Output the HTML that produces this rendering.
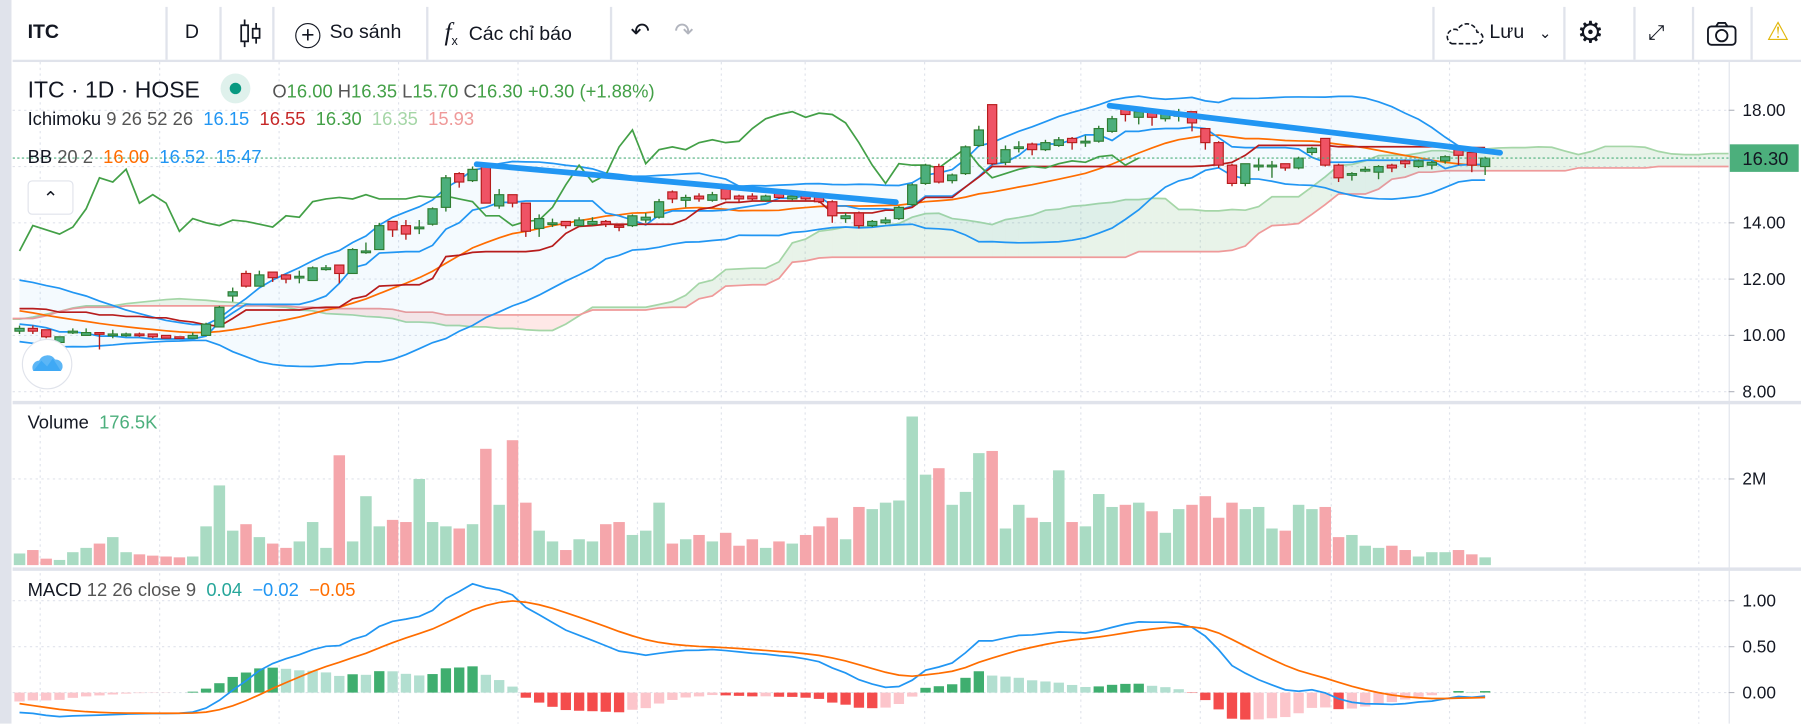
<!DOCTYPE html>
<html><head><meta charset="utf-8">
<style>
html,body{margin:0;padding:0}
body{width:1801px;height:723px;background:#fff;font-family:"Liberation Sans",sans-serif;overflow:hidden;position:relative;color:#131722}
#root{position:absolute;left:0;top:0;width:1568px;height:630px;transform:scale(1.14860);transform-origin:0 0}
.tb{position:absolute;top:0;left:11px;right:0;height:52px;border-bottom:2px solid #e0e3eb;}
.tbi{position:absolute;top:0;height:52px;line-height:56px;font-size:17px;color:#131722}
.sep{position:absolute;top:6px;width:2px;height:46px;background:#e0e3eb}
.lg{position:absolute;white-space:nowrap}
</style></head><body>
<div id="root">
<div style="position:absolute;left:0;top:0;width:10px;height:630px;background:#e0e3eb"></div>
<div class="tb">
 <div class="tbi" style="left:13px;font-weight:bold">ITC</div>
 <div class="sep" style="left:133px"></div>
 <div class="tbi" style="left:150px">D</div>
 <div class="sep" style="left:180px"></div>
 <div class="tbi" style="left:197px"><svg width="22" height="30" style="vertical-align:middle"><path d="M5 3v24M15 6v18" stroke="#131722" stroke-width="1.5"/><rect x="2" y="8" width="6" height="14" fill="#fff" stroke="#131722" stroke-width="1.5"/><rect x="12" y="11" width="6" height="8" fill="#fff" stroke="#131722" stroke-width="1.5"/></svg></div>
 <div class="sep" style="left:226px"></div>
 <div class="tbi" style="left:246px"><span style="display:inline-block;width:20px;height:20px;border:1.6px solid #131722;border-radius:50%;text-align:center;line-height:20px;font-size:20px;vertical-align:-4px;margin-right:8px">+</span>So sánh</div>
 <div class="sep" style="left:360px"></div>
 <div class="tbi" style="left:376px"><i style="font-family:'Liberation Serif',serif;font-size:22px">f</i><sub style="font-size:11px">x</sub>&nbsp;&nbsp;Các chỉ báo</div>
 <div class="sep" style="left:520px"></div>
 <div class="tbi" style="left:538px;font-size:20px">↶</div>
 <div class="tbi" style="left:576px;font-size:20px;color:#b2b5be">↷</div>
 <div class="sep" style="left:1236px"></div>
 <div class="tbi" style="left:1247px"><svg width="34" height="24" style="vertical-align:middle"><path d="M6 21h22a5 5 0 0 0 0-10a9 9 0 0 0-17-2a6 6 0 0 0-5 12z" fill="none" stroke="#131722" stroke-width="1.4" stroke-dasharray="4 2"/></svg> Lưu <span style="font-size:13px;margin-left:8px">⌄</span></div>
 <div class="sep" style="left:1350px"></div>
 <div class="tbi" style="left:1362px;font-size:26px">⚙</div>
 <div class="sep" style="left:1411px"></div>
 <div class="tbi" style="left:1424px;font-size:18px">⤢</div>
 <div class="sep" style="left:1462px"></div>
 <div class="tbi" style="left:1474px"><svg width="28" height="24" style="vertical-align:middle"><rect x="2" y="6" width="24" height="16" rx="3" fill="none" stroke="#131722" stroke-width="1.6"/><path d="M9 6l2-3h6l2 3" fill="none" stroke="#131722" stroke-width="1.6"/><circle cx="14" cy="14" r="5" fill="none" stroke="#131722" stroke-width="1.6"/></svg></div>
 <div class="sep" style="left:1513px"></div>
 <div class="tbi" style="left:1527px;color:#e2b80e;font-size:22px">⚠</div>
</div>

<svg id="chart" width="1568" height="630" style="position:absolute;left:0;top:0">
<defs>
<clipPath id="cp"><rect x="11" y="54" width="1494" height="296"/></clipPath>
<clipPath id="cm"><rect x="11" y="498" width="1494" height="135"/></clipPath>
</defs>
<g id="grid"></g>
<g id="pricePane" clip-path="url(#cp)"></g>
<g id="volPane"></g>
<g id="macdPane" clip-path="url(#cm)"></g>
<g id="axis"></g>
</svg>

<div class="lg" style="left:24px;top:64px;font-size:20px">ITC · 1D · HOSE <span style="display:inline-block;width:26px;height:26px;border-radius:50%;background:#dff1ec;vertical-align:-5px;margin-left:12px;position:relative"><span style="position:absolute;left:8px;top:8px;width:10px;height:10px;border-radius:50%;background:#089981"></span></span>
 <span style="font-size:16px;color:#555;margin-left:14px">O<span style="color:#43a047">16.00</span> H<span style="color:#43a047">16.35</span> L<span style="color:#43a047">15.70</span> C<span style="color:#43a047">16.30</span> <span style="color:#43a047">+0.30 (+1.88%)</span></span></div>
<div class="lg" style="left:24px;top:96px;font-size:16px">Ichimoku <span style="color:#555">9 26 52 26</span>&nbsp; <span style="color:#2196f3">16.15</span>&nbsp; <span style="color:#c62828">16.55</span>&nbsp; <span style="color:#43a047">16.30</span>&nbsp; <span style="color:#a5d6a7">16.35</span>&nbsp; <span style="color:#ef9a9a">15.93</span></div>
<div class="lg" style="left:24px;top:129px;font-size:16px">BB <span style="color:#555">20 2</span>&nbsp; <span style="color:#ff6d00">16.00</span>&nbsp; <span style="color:#2196f3">16.52</span>&nbsp; <span style="color:#2196f3">15.47</span></div>
<div style="position:absolute;left:24px;top:157px;width:38px;height:28px;border:1px solid #e0e3eb;border-radius:4px;background:#fff;text-align:center;line-height:32px;font-size:16px">⌃</div>
<div style="position:absolute;left:19px;top:295px;width:42px;height:42px;border-radius:50%;border:1px solid #e0e3eb;background:#fff"><svg width="42" height="42"><path d="M9 27l7-9 5 5 5-7 7 11z" fill="#3fa9f5"/><path d="M9 27a6 6 0 0 1 5-9a8 8 0 0 1 14-1a6 6 0 0 1 5 10z" fill="#3fa9f5" opacity=".85"/></svg></div>
<div class="lg" style="left:24px;top:360px;font-size:16px">Volume&nbsp;&nbsp;<span style="color:#4caf7c">176.5K</span></div>
<div class="lg" style="left:24px;top:506px;font-size:16px">MACD <span style="color:#555">12 26 close 9</span>&nbsp; <span style="color:#26a69a">0.04</span>&nbsp; <span style="color:#2196f3">−0.02</span>&nbsp; <span style="color:#ff6d00">−0.05</span></div>
</div>

<script>
const histClose=[10.5,10.6,10.4,10.3,10.5,10.7,10.8,10.6,10.5,10.4,10.6,10.7,10.9,10.8,10.6,10.5,10.4,10.5,10.6,10.8,10.7,10.6,10.5,10.6,10.7,10.6,
10.5,10.4,10.6,10.7,10.5,10.4,10.6,10.8,10.7,10.5,10.6,10.7,10.6,10.5,10.4,10.6,10.7,10.6,10.5,10.6,10.5,10.4,10.5,10.6,10.7,10.6,
10.7,10.9,11.1,11.3,11.5,11.6,11.4,11.6,11.7,11.5,11.6,11.4,11.5,11.3,11.2,11.0,10.9,10.8,10.6,10.5,10.4,10.3,10.3,10.2,10.2,10.2];
const openArr=[10.15,10.25,10.2,9.75,10.1,10.0,10.1,10.05,10.0,10.05,10.05,10.0,9.95,9.9,10.0,10.3,11.4,12.2,11.75,12.25,12.15,12.05,11.95,12.4,12.5,12.2,13.0,13.05,14.05,13.9,13.85,13.95,14.55,15.75,15.5,16.05,14.6,15.0,14.7,13.8,14.0,14.05,13.9,13.95,14.05,13.9,13.9,14.1,14.2,15.1,14.8,14.95,14.8,15.2,14.95,14.95,14.8,15.05,14.85,15.0,14.95,14.75,14.15,14.35,13.9,14.0,14.15,14.65,15.4,16.0,15.5,15.75,16.75,18.2,16.15,16.7,16.8,16.6,16.75,17.0,16.9,16.9,17.25,18.05,17.75,17.95,17.7,17.85,17.95,17.35,16.85,16.05,15.4,16.05,16.05,16.1,15.95,16.5,17.0,16.05,15.75,15.9,15.8,16.05,16.2,16.0,16.05,16.2,16.6,16.5,16.0];
const highArr=[10.35,10.35,10.2,9.95,10.25,10.25,10.1,10.2,10.1,10.1,10.05,10.0,9.95,10.1,10.45,11.05,11.7,12.3,12.3,12.25,12.15,12.3,12.45,12.5,12.5,13.1,13.3,14.0,14.05,14.1,14.1,14.55,15.7,15.8,16.0,16.05,15.2,15.0,14.7,14.3,14.15,14.05,14.2,14.2,14.1,13.95,14.3,14.35,14.85,15.15,15.0,15.05,15.1,15.2,15.0,15.05,15.0,15.2,15.05,15.1,15.0,14.8,14.35,14.4,14.1,14.2,14.6,15.4,16.1,16.1,15.75,16.75,17.45,18.2,16.75,16.9,16.85,16.95,17.05,17.05,17.1,17.45,17.8,18.1,18.05,18.0,17.95,18.05,17.95,17.35,16.9,16.1,16.1,16.3,16.2,16.1,16.35,16.7,17.0,16.1,15.8,16.0,16.05,16.1,16.25,16.25,16.2,16.4,16.6,16.5,16.35];
const lowArr=[10.05,10.05,9.9,9.7,10.05,10.0,9.5,9.9,9.95,9.95,9.9,9.9,9.9,9.9,10.0,10.3,11.2,11.7,11.75,11.9,11.85,11.85,11.95,12.3,11.85,12.2,12.9,13.05,13.5,13.4,13.6,13.9,14.4,15.25,15.45,14.7,14.5,14.55,13.5,13.5,13.85,13.8,13.9,13.9,13.85,13.7,13.85,14.0,14.15,14.7,14.55,14.75,14.75,14.8,14.75,14.8,14.75,14.85,14.8,14.8,14.7,14.0,14.0,13.8,13.85,13.95,14.1,14.6,15.35,15.4,15.4,15.7,16.7,16.05,16.05,16.5,16.4,16.55,16.7,16.6,16.7,16.85,17.2,17.6,17.5,17.45,17.6,17.6,17.25,16.6,15.95,15.3,15.3,15.85,15.6,15.85,15.9,16.4,16.0,15.45,15.5,15.8,15.55,15.8,15.95,15.95,15.9,16.1,16.05,15.8,15.7];
const closeArr=[10.25,10.15,9.95,9.95,10.15,10.1,10.05,10.05,10.05,10.0,9.95,9.9,9.9,10.0,10.4,11.0,11.55,11.75,12.15,12.05,12.0,12.1,12.4,12.4,12.2,13.05,13.0,13.9,13.75,13.6,13.85,14.5,15.6,15.45,15.9,14.7,15.0,14.7,13.7,14.15,14.0,13.9,14.1,14.05,13.95,13.85,14.25,14.2,14.75,14.85,14.9,14.85,15.0,14.85,14.85,14.85,14.95,14.9,14.95,14.85,14.75,14.25,14.25,13.9,14.05,14.1,14.55,15.35,16.05,15.45,15.7,16.7,17.3,16.1,16.6,16.7,16.6,16.85,16.95,16.85,16.9,17.35,17.7,17.85,17.95,17.75,17.9,17.85,17.55,16.85,16.05,15.4,16.1,16.05,16.05,15.95,16.3,16.65,16.05,15.6,15.75,15.9,16.0,15.95,16.1,16.2,16.15,16.35,16.4,16.05,16.3];
const volumeArr=[.27,.35,.15,.12,.3,.4,.5,.65,.3,.25,.22,.2,.18,.2,.9,1.85,.8,.95,.65,.5,.4,.55,1.0,.4,2.55,.55,1.6,.9,1.05,1.0,2.0,1.0,.9,.85,.95,2.7,1.4,2.9,1.45,.8,.55,.35,.6,.55,.95,1.0,.7,.8,1.45,.5,.6,.7,.55,.75,.45,.6,.4,.55,.5,.7,.9,1.1,.6,1.35,1.3,1.45,1.5,3.45,2.1,2.25,1.4,1.7,2.6,2.65,.85,1.4,1.1,1.0,2.2,1.0,.9,1.65,1.35,1.4,1.45,1.25,.75,1.3,1.4,1.6,1.1,1.45,1.3,1.35,.85,.8,1.4,1.3,1.35,.65,.7,.45,.4,.45,.35,.2,.3,.3,.35,.25,.18];
const priceTicks=[8,10,12,14,18];
const macdTicks=[0,0.5,1];
const volTicks=[2];

const NS='http://www.w3.org/2000/svg';
const N=closeArr.length, H=histClose.length;
const xOf=i=>17+i*11.6;
const yP=p=>96+(18-p)*24.5;
const yV=v=>492-v*37.5;
const yM=m=>603-m*80;
function mk(tag,attrs,parent){const e=document.createElementNS(NS,tag);for(const k in attrs)e.setAttribute(k,attrs[k]);parent.appendChild(e);return e;}
const G=id=>document.getElementById(id);

const C=histClose.concat(closeArr);
const Hi=histClose.map(c=>c+0.25).concat(highArr);
const Lo=histClose.map(c=>c-0.25).concat(lowArr);
const T=C.length;
function mid(n,k){if(k<n-1)return null;let h=-1e9,l=1e9;for(let j=k-n+1;j<=k;j++){h=Math.max(h,Hi[j]);l=Math.min(l,Lo[j]);}return (h+l)/2;}
function poly(pts,attrs,parent){const d=pts.filter(p=>p&&p[1]!=null&&!isNaN(p[1])).map(p=>p[0].toFixed(1)+','+p[1].toFixed(1)).join(' ');return mk('polyline',Object.assign({points:d,fill:'none'},attrs),parent);}

const grid=G('grid');
[35,139,243,347,451,555,628,701,805,941,1045,1159,1262,1380,1479].forEach(x=>{
  const l=mk('line',{x1:x,y1:54,x2:x,y2:633,stroke:'#e0e3eb','stroke-dasharray':'2 3'},grid);
  
  
});
[8,10,12,14,16,18].forEach(p=>{const l=mk('line',{x1:11,y1:yP(p),x2:1505,y2:yP(p),stroke:'#e0e3eb','stroke-dasharray':'2 3'},grid);
  
  });
volTicks.forEach(v=>{mk('line',{x1:11,y1:yV(v),x2:1505,y2:yV(v),stroke:'#e0e3eb','stroke-dasharray':'2 3'},grid);});
macdTicks.forEach(v=>{mk('line',{x1:11,y1:yM(v),x2:1505,y2:yM(v),stroke:'#e0e3eb','stroke-dasharray':'2 3'},grid);});
[350,495].forEach(y=>{const s=mk('rect',{x:11,y:y-1,width:1560,height:3,fill:'#e0e3eb'},grid);
  
  });
mk('rect',{x:11,y:633,width:1560,height:2,fill:'#e0e3eb'},grid);

const pp=G('pricePane');
const spanA=[],spanB=[];
for(let k=0;k<T;k++){const t=mid(9,k),kj=mid(26,k);spanA.push(t!=null&&kj!=null?(t+kj)/2:null);spanB.push(mid(52,k));}
const cloudG=mk('g',{},pp);


const aPts=[],bPts=[];
for(let i=-26;i<N+26;i++){const k=H+i-26;if(k<0||spanA[k]==null||spanB[k]==null)continue;aPts.push([xOf(i),yP(spanA[k]),spanA[k]]);bPts.push([xOf(i),yP(spanB[k]),spanB[k]]);}
for(let j=0;j<aPts.length-1;j++){const up=aPts[j][2]>=bPts[j][2];
  mk('polygon',{points:[aPts[j],aPts[j+1],bPts[j+1],bPts[j]].map(p=>p[0]+','+p[1]).join(' '),fill:up?'rgba(67,160,71,0.12)':'rgba(244,67,54,0.12)'},cloudG);}
const sa=poly(aPts,{stroke:'#a5d6a7','stroke-width':1.5},pp);


const sb=poly(bPts,{stroke:'#ef9a9a','stroke-width':1.5},pp);



const bbU=[],bbL=[],bbM=[];
for(let i=0;i<N;i++){const k=H+i;let s=0;for(let j=k-19;j<=k;j++)s+=C[j];const m=s/20;let v=0;for(let j=k-19;j<=k;j++)v+=(C[j]-m)**2;const sd=Math.sqrt(v/20);
  bbM.push([xOf(i),yP(m)]);bbU.push([xOf(i),yP(m+2*sd)]);bbL.push([xOf(i),yP(m-2*sd)]);}
const bf=mk('polygon',{points:bbU.concat(bbL.slice().reverse()).map(p=>p[0]+','+p[1]).join(' '),fill:'rgba(33,150,243,0.05)'},pp);


const bu=poly(bbU,{stroke:'#2196f3','stroke-width':1.5},pp);


const bl=poly(bbL,{stroke:'#2196f3','stroke-width':1.5},pp);


const bm=poly(bbM,{stroke:'#ff6d00','stroke-width':1.5},pp);



const tk=[],kj=[],ch=[];
for(let i=0;i<N;i++){const k=H+i;tk.push([xOf(i),yP(mid(9,k))]);kj.push([xOf(i),yP(mid(26,k))]);if(i+26<N)ch.push([xOf(i),yP(closeArr[i+26])]);}
const t1=poly(tk,{stroke:'#2196f3','stroke-width':1.5},pp);


const k1=poly(kj,{stroke:'#b71c1c','stroke-width':1.5},pp);


const c1=poly(ch,{stroke:'#43a047','stroke-width':1.5},pp);



for(let i=0;i<N;i++){const up=closeArr[i]>=openArr[i];const x=xOf(i);
  const g=mk('g',{},pp);
  
  
  const col=up?'#2e7d32':'#b71c1c';
  mk('line',{x1:x,y1:yP(highArr[i]),x2:x,y2:yP(lowArr[i]),stroke:col,'stroke-width':1.2},g);
  const y1=yP(Math.max(openArr[i],closeArr[i])),y2=yP(Math.min(openArr[i],closeArr[i]));
  mk('rect',{x:x-4,y:y1,width:8,height:Math.max(1.5,y2-y1),fill:up?'#4caf7c':'#ef5365',stroke:col,'stroke-width':1},g);}
const last=closeArr[N-1];
const pl=mk('line',{x1:11,y1:yP(last),x2:1505,y2:yP(last),stroke:'#4caf7c','stroke-dasharray':'2 2'},pp);


const tl1=mk('line',{x1:415,y1:143,x2:780,y2:176,stroke:'#2196f3','stroke-width':5,'stroke-linecap':'round'},pp);


const tl2=mk('line',{x1:966,y1:92,x2:1306,y2:133,stroke:'#2196f3','stroke-width':5,'stroke-linecap':'round'},pp);



const vp=G('volPane');
for(let i=0;i<N;i++){const up=closeArr[i]>=openArr[i];
  const r=mk('rect',{x:xOf(i)-5,y:yV(volumeArr[i]),width:10,height:volumeArr[i]*37.5,fill:up?'#a9dbc3':'#f5a6ab'},vp);
  
  }

function ema(arr,n){const a=2/(n+1);const o=[];let e=arr[0];for(let k=0;k<arr.length;k++){e=k==0?arr[0]:a*arr[k]+(1-a)*e;o.push(e);}return o;}
const e12=ema(C,12),e26=ema(C,26);const mline=e12.map((v,k)=>v-e26[k]);const sig=ema(mline,9);
const mp=G('macdPane');
let prevH=mline[H-1]-sig[H-1];
for(let i=0;i<N;i++){const k=H+i;const h=mline[k]-sig[k];
  const col=h>=0?(h>=prevH?'#3fae6f':'#b2dfd0'):(h<prevH?'#f44c4c':'#fcc5cb');prevH=h;
  const r=mk('rect',{x:xOf(i)-4.5,y:Math.min(yM(h),yM(0)),width:9,height:Math.abs(h*80),fill:col},mp);
  
  }
const mPts=[],sPts=[];for(let i=0;i<N;i++){mPts.push([xOf(i),yM(mline[H+i])]);sPts.push([xOf(i),yM(sig[H+i])]);}
const ml=poly(mPts,{stroke:'#2196f3','stroke-width':1.5},mp);


const sl=poly(sPts,{stroke:'#ff6d00','stroke-width':1.5},mp);



const ax=G('axis');
mk('rect',{x:1505,y:54,width:1,height:580,fill:'#e0e3eb'},ax);
function lab(txt,y,name){const t=mk('text',{x:1517,y:y+5,'font-size':15,fill:'#131722','font-family':'Liberation Sans'},ax);t.textContent=txt;
  
  
  mk('line',{x1:1505,y1:y,x2:1510,y2:y,stroke:'#b2b5be'},ax);}
priceTicks.forEach(p=>lab(p.toFixed(2),yP(p),'price-tick-label'));
volTicks.forEach(v=>lab(v+'M',yV(v),'volume-tick-label'));
macdTicks.forEach(v=>lab(v.toFixed(2),yM(v),'macd-tick-label'));
const pb=mk('rect',{x:1506,y:yP(last)-12,width:60,height:24,fill:'#4caf7c'},ax);


const pt=mk('text',{x:1517,y:yP(last)+6,'font-size':16,fill:'#131722','font-family':'Liberation Sans'},ax);pt.textContent=last.toFixed(2);


</script>
</body></html>
